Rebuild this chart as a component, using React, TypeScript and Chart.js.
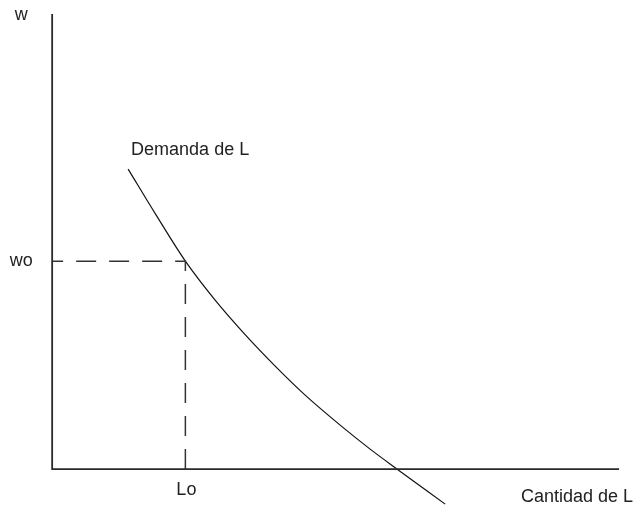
import React, { useEffect, useRef } from "react";
import { Chart, registerables } from "chart.js";

Chart.register(...registerables);

// Demand curve for labour (L = quantity, w = wage), in arbitrary axis units
const demandL = [1.34, 1.835, 2.35, 2.875, 3.404, 3.934, 4.463, 5.08, 5.609, 6.086, 6.933];
const demandW = [6.593, 5.582, 4.571, 3.714, 2.956, 2.264, 1.626, 0.967, 0.44, 0, -0.769];

// Equilibrium point
const Lo = 2.35;
const wo = 4.571;

// Axis extents
const axisMaxL = 10;
const axisMaxW = 10;

// Text labels
const yAxisLabel = "w";
const woLabel = "wo";
const LoLabel = "Lo";
const xAxisLabel = "Cantidad de L";
const curveLabel = "Demanda de L";

const FONT = "18px 'Liberation Sans', Arial, sans-serif";
const TEXT_COLOR = "#222";

const textPlugin = {
  id: "diagramText",
  afterDatasetsDraw(chart: any) {
    const { ctx, scales } = chart;
    const xs = scales.x;
    const ys = scales.y;
    const x0 = xs.getPixelForValue(0);
    const y0 = ys.getPixelForValue(0);
    const yTop = ys.getPixelForValue(axisMaxW);
    const xEnd = xs.getPixelForValue(axisMaxL);
    ctx.save();
    ctx.font = FONT;
    ctx.fillStyle = TEXT_COLOR;
    ctx.textBaseline = "middle";
    ctx.textAlign = "center";
    ctx.fillText(yAxisLabel, x0 - 31, yTop + 1);
    ctx.fillText(woLabel, x0 - 31, ys.getPixelForValue(wo));
    ctx.fillText(LoLabel, xs.getPixelForValue(Lo) + 1, y0 + 21);
    ctx.fillText(xAxisLabel, xEnd - 42, y0 + 28);
    ctx.fillText(
      curveLabel,
      xs.getPixelForValue(demandL[0]) + 62,
      ys.getPixelForValue(demandW[0]) - 19
    );
    ctx.restore();
  },
};

export default function App() {
  const canvasRef = useRef<HTMLCanvasElement | null>(null);

  useEffect(() => {
    document.body.style.margin = "0";
    const canvas = canvasRef.current;
    if (!canvas) return;
    const chart = new Chart(canvas, {
      type: "scatter",
      data: {
        datasets: [
          {
            label: "axes",
            data: [
              { x: 0, y: axisMaxW },
              { x: 0, y: 0 },
              { x: axisMaxL, y: 0 },
            ],
            showLine: true,
            borderColor: "#2a2a2a",
            borderWidth: 1.8,
            pointRadius: 0,
            tension: 0,
            clip: false,
          },
          {
            label: "guides",
            data: [
              { x: 0, y: wo },
              { x: Lo, y: wo },
              { x: Lo, y: 0 },
            ],
            showLine: true,
            borderColor: "#333",
            borderWidth: 1.5,
            borderDash: [20, 13],
            borderDashOffset: 9,
            pointRadius: 0,
            tension: 0,
            clip: false,
          },
          {
            label: "Demanda de L",
            data: demandL.map((l, i) => ({ x: l, y: demandW[i] })),
            showLine: true,
            borderColor: "#111",
            borderWidth: 1.2,
            pointRadius: 0,
            cubicInterpolationMode: "monotone",
            clip: false,
          },
        ],
      },
      options: {
        responsive: false,
        animation: false,
        events: [],
        layout: { padding: 0 },
        plugins: {
          legend: { display: false },
          tooltip: { enabled: false },
        },
        scales: {
          x: { type: "linear", min: -0.92, max: 10.44, display: false },
          y: { type: "linear", min: -0.81, max: 10.31, display: false },
        },
      },
      plugins: [textPlugin],
    });
    return () => chart.destroy();
  }, []);

  return (
    <div style={{ position: "fixed", left: 0, top: 0, width: 644, height: 506, background: "#fff" }}>
      <canvas ref={canvasRef} width={644} height={506} />
    </div>
  );
}
